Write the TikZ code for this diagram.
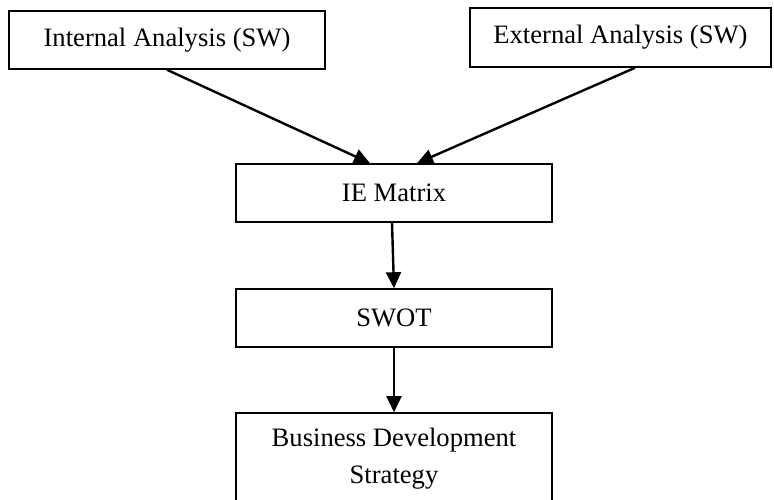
\documentclass[tikz,border=0pt]{standalone}
\usepackage{fontspec}
\setmainfont{Liberation Serif}
\usetikzlibrary{arrows.meta}
\begin{document}
\begin{tikzpicture}[x=1pt,y=-1pt,
  box/.style={draw=black,line width=1.6pt,rectangle,inner sep=0pt,align=center,
    font=\fontsize{26.6}{37}\selectfont,minimum width=316pt,minimum height=58pt},
  arr/.style={line width=2.4pt,-{Triangle[length=16pt,width=15pt]}}]
\useasboundingbox (0,0) rectangle (774,500);
\begin{scope}
\clip (0,0) rectangle (774,500);
\node[box] (int) at (167,40) {Internal Analysis (SW)};
\node[box,minimum width=301pt,minimum height=59pt] (ext) at (620.5,37.5) {External Analysis (SW)};
\node[box] (ie) at (394,193) {IE Matrix};
\node[box] (swot) at (394,318) {SWOT};
\node[box,minimum height=92pt] (bds) at (394,459) {Business Development\\Strategy};
\draw[arr] (int.south) -- ([xshift=-24pt]ie.north);
\draw[arr] ([xshift=14.5pt]ext.south) -- ([xshift=23pt]ie.north);
\draw[arr] ([xshift=-2pt]ie.south) -- (swot.north);
\draw[arr] (swot.south) -- (bds.north);
\end{scope}
\end{tikzpicture}
\end{document}
